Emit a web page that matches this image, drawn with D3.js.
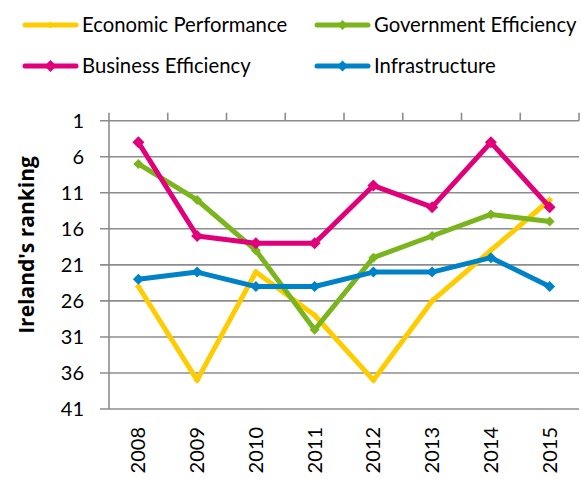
<!DOCTYPE html>
<html>
<head>
<meta charset="utf-8">
<script src="https://cdn.jsdelivr.net/npm/d3@7"></script>
<style>
  body { margin: 0; background: #fff; }
  svg { display: block; font-family: Lato, "Open Sans", sans-serif; }
</style>
</head>
<body>
<div id="chart"></div>
<script>
const years = ['2008', '2009', '2010', '2011', '2012', '2013', '2014', '2015'];
const yTicks = [1, 6, 11, 16, 21, 26, 31, 36, 41];

const economicPerformance = [24, 37, 22, 28, 37, 26, 19, 12];
const governmentEfficiency = [7, 12, 19, 30, 20, 17, 14, 15];
const businessEfficiency = [4, 17, 18, 18, 10, 13, 4, 13];
const infrastructure = [23, 22, 24, 24, 22, 22, 20, 24];

const seriesNames = ['Economic Performance', 'Government Efficiency', 'Business Efficiency', 'Infrastructure'];
const seriesColors = ['#FFCC00', '#7AB51D', '#E2007A', '#0082C8'];

const series = [economicPerformance, governmentEfficiency, businessEfficiency, infrastructure]
    .map((values, i) => ({
        name: seriesNames[i],
        color: seriesColors[i],
        marker: [7, 10, 12, 11][i],
        values: values
    }));

const width = 582;
const height = 479;
const margin = { top: 120.7, right: 3, bottom: 70, left: 109 };

const svg = d3.select('#chart')
    .append('svg')
    .attr('width', width)
    .attr('height', height);

const x = d3.scaleBand()
    .domain(years)
    .range([margin.left, width - margin.right])
    .padding(0);

const y = d3.scaleLinear()
    .domain([1, 41])
    .range([margin.top, 409]);

// gridlines + y labels
const grid = svg.append('g');
grid.selectAll('line')
    .data(yTicks)
    .enter().append('line')
    .attr('x1', margin.left - 9)
    .attr('x2', x.range()[1])
    .attr('y1', d => y(d))
    .attr('y2', d => y(d))
    .attr('stroke', '#8c8c8c')
    .attr('stroke-width', 1.6);

grid.selectAll('text')
    .data(yTicks)
    .enter().append('text')
    .attr('x', 84)
    .attr('y', d => y(d))
    .attr('dy', '0.35em')
    .attr('text-anchor', 'end')
    .style('font-size', '20px')
    .attr('fill', '#000')
    .text(d => d);

// left axis line
svg.append('line')
    .attr('x1', margin.left).attr('x2', margin.left)
    .attr('y1', margin.top).attr('y2', y(41))
    .attr('stroke', '#8c8c8c')
    .attr('stroke-width', 1.6);

// category ticks on top
const bounds = years.map(d => x(d)).concat([x.range()[1]]);
svg.append('g').selectAll('line')
    .data(bounds)
    .enter().append('line')
    .attr('x1', d => d).attr('x2', d => d)
    .attr('y1', margin.top - 8).attr('y2', margin.top)
    .attr('stroke', '#8c8c8c')
    .attr('stroke-width', 1.6);

// x labels
svg.append('g').selectAll('text')
    .data(years)
    .enter().append('text')
    .attr('transform', d => `translate(${x(d) + x.bandwidth() / 2 + 7},427) rotate(-90)`)
    .attr('text-anchor', 'end')
    .style('font-size', '20px')
    .text(d => d);

// y title
svg.append('text')
    .attr('transform', 'translate(34,245) rotate(-90)')
    .attr('text-anchor', 'middle')
    .style('font-family', '"Open Sans", sans-serif')
    .style('font-size', '21px')
    .style('font-weight', 'bold')
    .text("Ireland's ranking");

const line = d3.line()
    .x((d, i) => x(years[i]) + x.bandwidth() / 2)
    .y(d => y(d));

const diamond = s => `M0,${-s / 2}L${s / 2},0L0,${s / 2}L${-s / 2},0Z`;

const sg = svg.append('g').selectAll('g')
    .data(series)
    .enter().append('g');

sg.append('path')
    .attr('d', d => line(d.values))
    .attr('fill', 'none')
    .attr('stroke', d => d.color)
    .attr('stroke-width', 5)
    .attr('stroke-linejoin', 'round');

sg.each(function(s) {
    d3.select(this).selectAll('path.m')
        .data(s.values)
        .enter().append('path')
        .attr('class', 'm')
        .attr('transform', (d, i) => `translate(${x(years[i]) + x.bandwidth() / 2},${y(d)})`)
        .attr('d', diamond(s.marker))
        .attr('fill', s.color);
});

// legend
const legendPos = [[25, 25], [317, 25], [25, 66], [317, 66]];
const lg = svg.append('g').selectAll('g')
    .data(series)
    .enter().append('g')
    .attr('transform', (d, i) => `translate(${legendPos[i][0]},${legendPos[i][1]})`);

lg.append('line')
    .attr('x1', 0).attr('x2', 51)
    .attr('stroke', d => d.color)
    .attr('stroke-width', 5)
    .attr('stroke-linecap', 'round');

lg.append('path')
    .attr('transform', 'translate(25.5,0)')
    .attr('d', d => diamond(d.marker))
    .attr('fill', d => d.color);

lg.append('text')
    .attr('x', 57)
    .attr('dy', '0.35em')
    .style('font-size', '20.3px')
    .text(d => d.name);
</script>
</body>
</html>
